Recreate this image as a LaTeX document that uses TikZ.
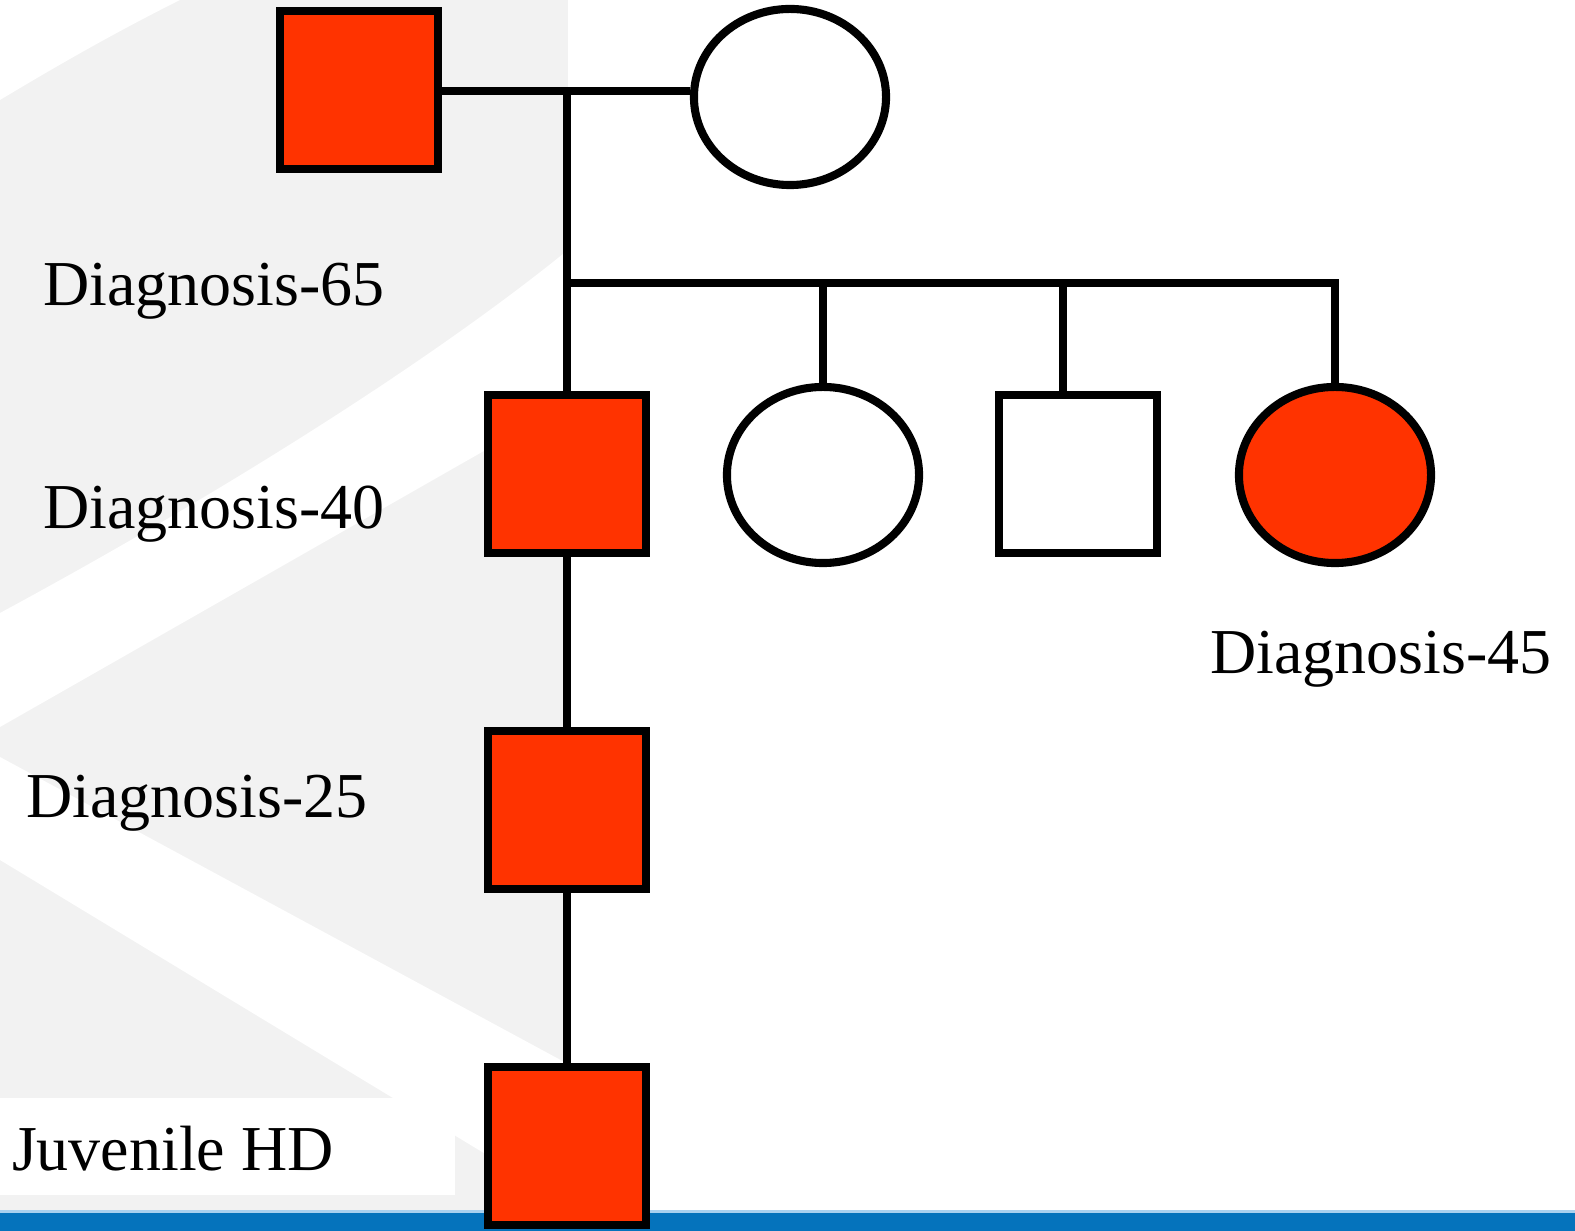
\documentclass[tikz,border=0pt]{standalone}
\usepackage{fontspec}
\setmainfont{Liberation Serif}
\usetikzlibrary{shapes.geometric}
\definecolor{hdred}{HTML}{FF3300}
\definecolor{panelgray}{HTML}{F2F2F2}
\definecolor{barblue}{HTML}{0573BC}
\definecolor{barlight}{HTML}{A9D1EF}
\begin{document}
\begin{tikzpicture}[x=0.01cm, y=-0.01cm, line width=2.3pt]
  \tikzset{male/.style={draw, rectangle, minimum size=1.58cm, inner sep=0},
    female/.style={draw, ellipse, minimum width=1.92cm, minimum height=1.76cm, inner sep=0},
    hd/.style={fill=hdred},
    lbl/.style={anchor=base west, inner sep=0, font=\fontsize{18.2}{22}\selectfont}}
  \useasboundingbox (0,0) rectangle (1575,1231);
  % backdrop
  \fill[panelgray] (0,0) rectangle (568,1211);
  \fill[white] (0,0) -- (180,0) .. controls (110,35) and (50,70) .. (0,100) -- cycle;
  \fill[white] (0,613) .. controls (200,505) and (420,370) .. (568,250)
    -- (568,403) -- (0,727) -- cycle;
  \fill[white] (0,757) -- (568,1064) -- (568,1204) -- (0,860) -- cycle;
  \fill[white] (0,1098) rectangle (455,1195);
  \fill[barlight] (0,1210) rectangle (1575,1213);
  \fill[barblue] (0,1213) rectangle (1575,1231);
  % pedigree
  \node[male, hd] (gf) at (359,90) {};
  \node[female] (gm) at (790,97) {};
  \node[male, hd] (p1) at (567,474) {};
  \node[female] (p2) at (823,475) {};
  \node[male] (p3) at (1078,474) {};
  \node[female, hd] (p4) at (1335,475) {};
  \node[male, hd] (g1) at (567,810) {};
  \node[male, hd] (h1) at (567,1146) {};
  \coordinate (mj) at (567,91);
  \coordinate (sj) at (567,283);
  \coordinate (d3) at (1063,283);
  \draw (gf.east |- mj) -- (mj) -- (gm.west |- mj);
  \draw (mj) -- (p1.north);
  \draw (sj) -- (sj -| p4.north) -- (p4.north);
  \draw (p2.north |- sj) -- (p2.north);
  \draw (d3) -- (d3 |- p3.north);
  \draw (p1) -- (g1);
  \draw (g1) -- (h1);
  % ages
  \node[lbl] (l65) at (39,306) {Diagnosis-65};
  \node[lbl] (l40) at (39,529) {Diagnosis-40};
  \node[lbl] (l25) at (22,818) {Diagnosis-25};
  \node[lbl] (ljv) at (8,1170) {Juvenile HD};
  \node[lbl] (l45) at (1206,674) {Diagnosis-45};
\end{tikzpicture}
\end{document}
